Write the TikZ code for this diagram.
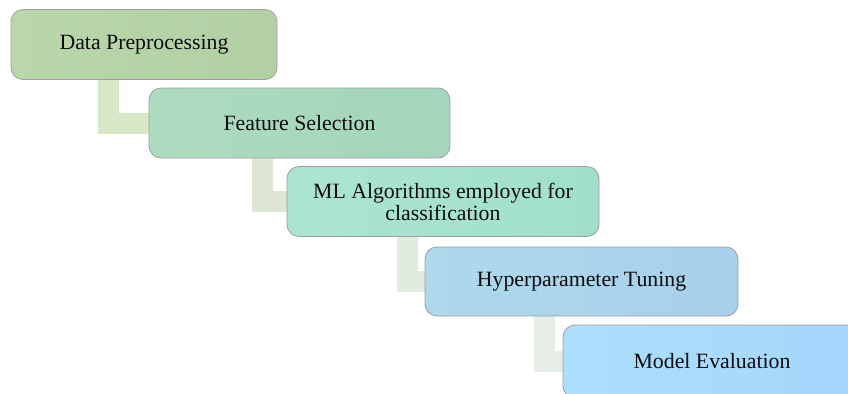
\documentclass[tikz,border=0pt]{standalone}
\usepackage{fontspec}
\setmainfont{Liberation Serif}
\usetikzlibrary{backgrounds}

\definecolor{stepa}{HTML}{B9D7AB}
\definecolor{stepb}{HTML}{ADDBC0}
\definecolor{stepc}{HTML}{ABE5D2}
\definecolor{stepd}{HTML}{AED9EB}
\definecolor{stepe}{HTML}{ABDFFC}
\definecolor{linka}{HTML}{D8E8C7}
\definecolor{linkb}{HTML}{DDE7D3}
\definecolor{linkc}{HTML}{E2EBDF}
\definecolor{linkd}{HTML}{E7EDE7}

\begin{document}
\begin{tikzpicture}[x=0.5pt,y=-0.5pt,
  stage/.style={draw=gray!75, rounded corners=6pt, align=center,
    minimum height=35pt, text=black!95,
    font=\fontsize{10.9}{11}\selectfont},
  link/.style={line width=10.5pt}]
  \useasboundingbox (0,0) rectangle (848,393);
  \clip (0,0) rectangle (848,393);

  % the five steps, each one down and to the right of the last
  \node[stage, minimum width=133pt, left color=stepa, right color=stepa!88!black!30!stepa]
    (prep) at (144,44.5) {Data Preprocessing};
  \node[stage, minimum width=150.5pt, left color=stepb, right color=stepb!90!teal!60!stepb]
    (feat) at (299.5,123) {Feature Selection};
  \node[stage, minimum width=156pt, left color=stepc, right color=stepc!90!teal!60!stepc]
    (algo) at (443,201.5) {ML Algorithms employed for\\classification};
  \node[stage, minimum width=156.5pt, minimum height=34.5pt, left color=stepd, right color=stepd!92!blue!50!stepd]
    (tune) at (581.5,281.5) {Hyperparameter Tuning};
  \node[stage, minimum width=149pt, minimum height=36.5pt, left color=stepe, right color=stepe!92!blue!50!stepe]
    (eval) at (712,361.5) {Model Evaluation};

  % thick L-shaped bands behind the boxes
  \begin{scope}[on background layer]
    \draw[link, linka] (prep.south west) ++(97.5,0) |- (feat.west);
    \draw[link, linkb] (feat.south west) ++(114,0) |- (algo.west);
    \draw[link, linkc] (algo.south west) ++(120.5,0) |- (tune.west);
    \draw[link, linkd] (tune.south west) ++(120,0) |- (eval.west);
  \end{scope}
\end{tikzpicture}
\end{document}
